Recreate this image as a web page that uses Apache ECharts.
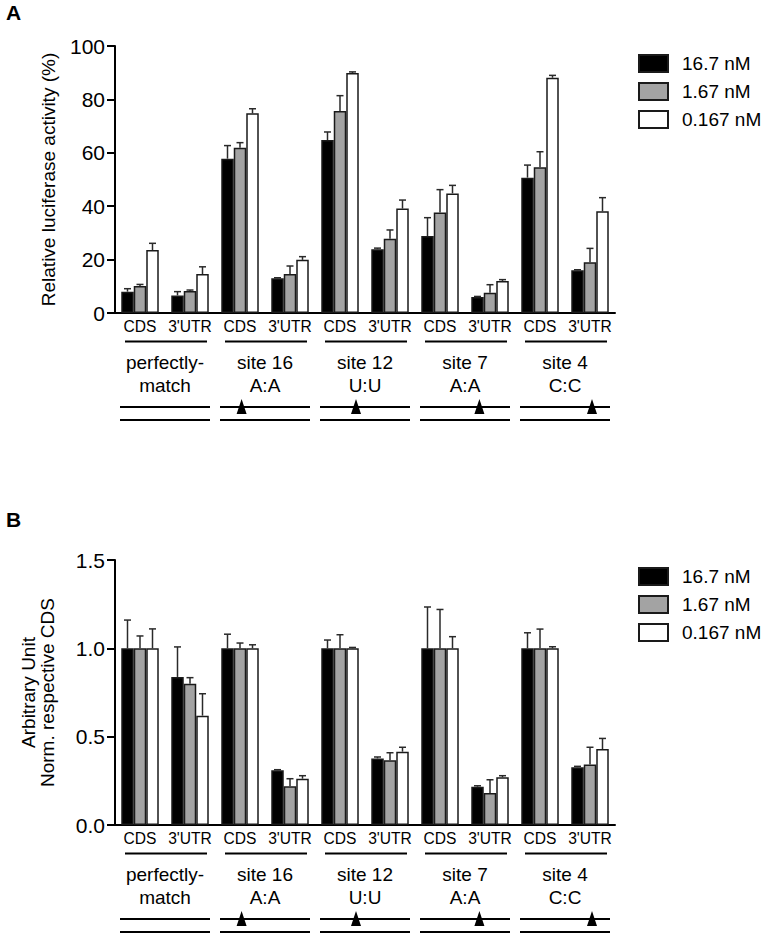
<!DOCTYPE html>
<html>
<head>
<meta charset="utf-8">
<script src="https://cdn.jsdelivr.net/npm/echarts@6/dist/echarts.min.js"></script>
<style>
html,body{margin:0;padding:0;background:#fff;}
#chart{width:767px;height:939px;}
</style>
</head>
<body>
<div id="chart"></div>
<script>
// ---------- DATA ----------
const categories = ['CDS', "3'UTR", 'CDS', "3'UTR", 'CDS', "3'UTR", 'CDS', "3'UTR", 'CDS', "3'UTR"];
const groupNames = ['perfectly-\nmatch', 'site 16\nA:A', 'site 12\nU:U', 'site 7\nA:A', 'site 4\nC:C'];
const siteMark = [null, 0.24, 0.40, 0.66, 0.80]; // relative position of mismatch along target
const seriesNames = ['16.7 nM', '1.67 nM', '0.167 nM'];

// Panel A: relative luciferase activity (%)
const a16_7 = [8.0, 6.6, 57.8, 13.0, 64.8, 23.9, 28.8, 6.0, 50.7, 16.0];
const a16_7Err = [1.1, 1.4, 4.9, 0.2, 3.0, 0.4, 6.9, 0.2, 4.7, 0.2];
const a1_67 = [10.1, 8.2, 61.9, 14.6, 75.7, 27.8, 37.6, 7.6, 54.6, 19.0];
const a1_67Err = [0.6, 0.4, 1.9, 3.0, 5.7, 3.3, 8.6, 3.0, 5.8, 5.2];
const a0_167 = [23.6, 14.6, 74.8, 19.9, 89.9, 39.1, 44.8, 12.0, 88.1, 38.1];
const a0_167Err = [2.5, 2.7, 1.7, 1.2, 0.4, 3.2, 3.0, 0.5, 0.9, 5.1];

// Panel B: arbitrary unit normalised to respective CDS
const b16_7 = [1.0, 0.838, 1.0, 0.31, 1.0, 0.377, 1.0, 0.217, 1.0, 0.327];
const b16_7Err = [0.16, 0.17, 0.08, 0.003, 0.047, 0.008, 0.234, 0.005, 0.088, 0.005];
const b1_67 = [1.0, 0.80, 1.0, 0.219, 1.0, 0.366, 1.0, 0.181, 1.0, 0.343];
const b1_67Err = [0.07, 0.034, 0.03, 0.043, 0.077, 0.043, 0.22, 0.075, 0.109, 0.097];
const b0_167 = [1.0, 0.619, 1.0, 0.262, 1.0, 0.415, 1.0, 0.27, 1.0, 0.43];
const b0_167Err = [0.11, 0.124, 0.02, 0.017, 0.005, 0.025, 0.066, 0.009, 0.009, 0.06];

const yTicksA = {min: 0, max: 100, interval: 20};
const yTicksB = {min: 0, max: 1.5, interval: 0.5};

// ---------- STYLE ----------
const FONT = '"Liberation Sans", Arial, Helvetica, sans-serif';
const fills = ['#000000', '#a3a3a3', '#ffffff'];
const BORDER = '#1a1a1a';

const chart = echarts.init(document.getElementById('chart'), null, {renderer: 'svg'});

function catAxis(gi) {
  return {
    type: 'category', gridIndex: gi, data: categories,
    axisLine: {show: true, lineStyle: {color: '#000', width: 2}},
    axisTick: {show: false},
    axisLabel: {interval: 0, margin: 5, color: '#000', fontFamily: FONT, fontSize: 15.6}
  };
}
function groupAxis(gi) {
  return {
    type: 'category', gridIndex: gi, data: groupNames, position: 'bottom', offset: 30,
    axisLine: {show: false}, axisTick: {show: false},
    axisLabel: {interval: 0, margin: 8, color: '#000', fontFamily: FONT, fontSize: 19, lineHeight: 23}
  };
}
function valAxis(gi, t, name, gap, fmt) {
  return {
    type: 'value', gridIndex: gi, min: t.min, max: t.max, interval: t.interval,
    name: name, nameLocation: 'middle', nameGap: gap,
    nameTextStyle: {color: '#000', fontFamily: FONT, fontSize: 19, lineHeight: 19},
    axisLine: {show: true, lineStyle: {color: '#000', width: 2}},
    axisTick: {show: true, length: 8, lineStyle: {color: '#000', width: 2}},
    splitLine: {show: false},
    axisLabel: {margin: 10, color: '#000', fontFamily: FONT, fontSize: 21, formatter: fmt}
  };
}

function barSeries(k, xi, yi, vals) {
  return {
    type: 'bar', name: seriesNames[k], xAxisIndex: xi, yAxisIndex: yi, data: vals,
    barGap: '0%', barCategoryGap: '25%',
    itemStyle: {color: fills[k], borderColor: BORDER, borderWidth: 1.5},
    emphasis: {disabled: true}, z: 2
  };
}
function errSeries(k, xi, yi, vals, errs) {
  return {
    type: 'custom', xAxisIndex: xi, yAxisIndex: yi, z: 3, clip: false,
    data: vals.map((v, i) => [i, v, v + errs[i]]),
    encode: {x: 0, y: [1, 2]},
    renderItem: function (params, api) {
      const i = api.value(0);
      const base = api.coord([i, api.value(1)]);
      const top = api.coord([i, api.value(2)]);
      const band = api.size([1, 0])[0];
      const bw = band * 0.75 / 3;
      const x = base[0] + (k - 1) * bw;
      const st = {stroke: '#2a2a2a', lineWidth: 1.5};
      return {type: 'group', children: [
        {type: 'line', shape: {x1: x, y1: base[1], x2: x, y2: top[1]}, style: st},
        {type: 'line', shape: {x1: x - 3.5, y1: top[1], x2: x + 3.5, y2: top[1]}, style: st}
      ]};
    }
  };
}
function annotSeries(xi, yi) {
  return {
    type: 'custom', xAxisIndex: xi, yAxisIndex: yi, z: 3, clip: false, silent: true,
    data: groupNames.map((_, g) => [g * 2, 0]),
    encode: {x: 0, y: 1},
    renderItem: function (params, api) {
      const g = params.dataIndex;
      const c = api.coord([api.value(0), 0]);
      const band = api.size([1, 0])[0];
      const left = c[0] - band / 2;
      const gw = band * 2;
      const y0 = c[1];
      const st = {stroke: '#000', lineWidth: 2};
      const kids = [
        {type: 'line', shape: {x1: left + 0.1 * gw, y1: y0 + 28.5, x2: left + 0.92 * gw, y2: y0 + 28.5}, style: st},
        {type: 'line', shape: {x1: left + 0.05 * gw, y1: y0 + 94, x2: left + 0.95 * gw, y2: y0 + 94}, style: st},
        {type: 'line', shape: {x1: left + 0.05 * gw, y1: y0 + 107, x2: left + 0.95 * gw, y2: y0 + 107}, style: st}
      ];
      const f = siteMark[g];
      if (f !== null) {
        const cx = left + 0.05 * gw + f * 0.9 * gw;
        kids.push({type: 'polygon', shape: {points: [[cx, y0 + 86], [cx - 5, y0 + 101], [cx + 5, y0 + 101]]}, style: {fill: '#000'}});
      }
      return {type: 'group', children: kids};
    }
  };
}
function legendAt(top) {
  return {
    orient: 'vertical', left: 638, top: top, padding: 0, itemWidth: 29, itemHeight: 17, itemGap: 9,
    data: seriesNames, icon: 'rect', selectedMode: false,
    textStyle: {color: '#000', fontFamily: FONT, fontSize: 19, lineHeight: 17, padding: [0, 0, 0, 9]}
  };
}

const option = {
  animation: false,
  backgroundColor: '#fff',
  grid: [
    {left: 115, top: 46, width: 500, height: 267},
    {left: 115, top: 560, width: 500, height: 265}
  ],
  legend: [legendAt(54), legendAt(567)],
  xAxis: [catAxis(0), groupAxis(0), catAxis(1), groupAxis(1)],
  yAxis: [
    valAxis(0, yTicksA, 'Relative luciferase activity (%)', 57, v => String(v)),
    valAxis(1, yTicksB, 'Arbitrary Unit\nNorm. respective CDS', 58, v => v.toFixed(1))
  ],
  graphic: [
    {type: 'text', left: 6, top: 2, style: {text: 'A', fontFamily: FONT, fontSize: 21, fontWeight: 'bold', fill: '#000'}},
    {type: 'text', left: 6, top: 509, style: {text: 'B', fontFamily: FONT, fontSize: 21, fontWeight: 'bold', fill: '#000'}}
  ],
  series: [
    barSeries(0, 0, 0, a16_7), barSeries(1, 0, 0, a1_67), barSeries(2, 0, 0, a0_167),
    errSeries(0, 0, 0, a16_7, a16_7Err), errSeries(1, 0, 0, a1_67, a1_67Err), errSeries(2, 0, 0, a0_167, a0_167Err),
    annotSeries(0, 0),
    barSeries(0, 2, 1, b16_7), barSeries(1, 2, 1, b1_67), barSeries(2, 2, 1, b0_167),
    errSeries(0, 2, 1, b16_7, b16_7Err), errSeries(1, 2, 1, b1_67, b1_67Err), errSeries(2, 2, 1, b0_167, b0_167Err),
    annotSeries(2, 1)
  ]
};
chart.setOption(option);
</script>
</body>
</html>
